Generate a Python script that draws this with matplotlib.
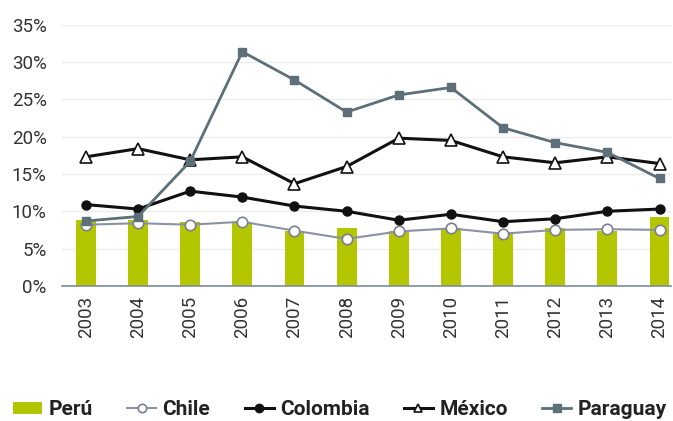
import matplotlib
matplotlib.use("Agg")
import matplotlib.pyplot as plt
from matplotlib.ticker import FuncFormatter, MultipleLocator
import numpy as np

years = ["2003", "2004", "2005", "2006", "2007", "2008", "2009", "2010", "2011", "2012", "2013", "2014"]
peru = [8.8, 8.8, 8.5, 8.6, 7.4, 7.7, 7.4, 7.7, 7.2, 7.8, 7.4, 9.2]
chile = [8.2, 8.4, 8.2, 8.6, 7.4, 6.3, 7.3, 7.7, 7.0, 7.5, 7.6, 7.5]
colombia = [10.9, 10.3, 12.7, 11.9, 10.7, 10.0, 8.8, 9.6, 8.6, 9.0, 10.0, 10.3]
mexico = [17.3, 18.4, 16.9, 17.3, 13.7, 16.0, 19.8, 19.5, 17.3, 16.5, 17.3, 16.4]
paraguay = [8.7, 9.3, 16.7, 31.4, 27.6, 23.3, 25.6, 26.6, 21.2, 19.2, 17.9, 14.4]

plt.rcParams['font.family'] = ['Roboto', 'DejaVu Sans']

fig = plt.figure(figsize=(6.73, 4.21), dpi=100)
ax = fig.add_axes([0.092, 0.321, 0.905, 0.62])

x = np.arange(len(years))
h_peru = ax.bar(x, peru, width=0.38, color='#b4c600', label='Perú', zorder=2)
h_chile, = ax.plot(x, chile, color='#8a93a6', lw=1.5, marker='o', ms=7.5, mfc='white', mec='#7a8090', mew=1.2, label='Chile', zorder=3)
h_col, = ax.plot(x, colombia, color='#111111', lw=2.2, marker='o', ms=6.5, mfc='#111111', mec='#111111', label='Colombia', zorder=4)
h_mex, = ax.plot(x, mexico, color='#111111', lw=2.2, marker='^', ms=8.5, mfc='white', mec='#111111', mew=1.2, label='México', zorder=4)
h_par, = ax.plot(x, paraguay, color='#5d6f78', lw=2.0, marker='s', ms=5.5, mfc='#5d6f78', mec='#5d6f78', label='Paraguay', zorder=5)

ax.set_xlim(-0.46, 11.22)
ax.set_ylim(0, 35)
ax.yaxis.set_major_locator(MultipleLocator(5))
ax.yaxis.set_major_formatter(FuncFormatter(lambda v, p: f"{int(round(v))}%"))
ax.set_xticks(x)
ax.set_xticklabels(years, rotation=90)
ax.tick_params(axis='both', length=0, labelsize=13.5, colors='#333333')
ax.tick_params(axis='y', pad=11)
ax.tick_params(axis='x', pad=7)
ax.grid(axis='y', color='#ececec', lw=1, zorder=0)
for s in ['top', 'right', 'left']:
    ax.spines[s].set_visible(False)
ax.spines['bottom'].set_color('#7f8a9c')
ax.spines['bottom'].set_linewidth(1.2)

handles = [h_peru, h_chile, h_col, h_mex, h_par]
labels = ['Perú', 'Chile', 'Colombia', 'México', 'Paraguay']
leg = fig.legend(handles, labels, loc='lower center', bbox_to_anchor=(0.505, -0.04), ncol=5, frameon=False,
                 prop={'size': 15, 'weight': 'bold'}, handlelength=1.4, handleheight=0.5, handletextpad=0.3,
                 columnspacing=1.65, labelcolor='#222222')
for h in leg.legend_handles:
    if hasattr(h, 'set_markersize'):
        h.set_markersize(6)

fig.savefig('out.png', dpi=100)
